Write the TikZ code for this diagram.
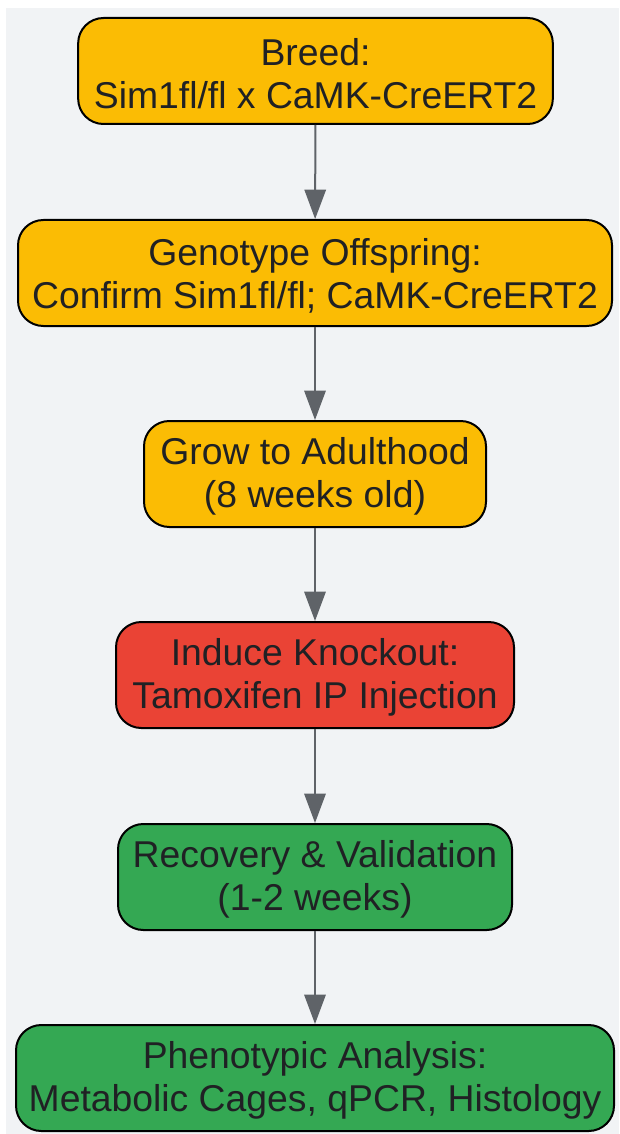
\documentclass[tikz,border=0pt]{standalone}
\usepackage{fontspec}
\setmainfont{Liberation Sans}
\usetikzlibrary{arrows.meta}
\definecolor{bggray}{HTML}{F1F3F5}
\definecolor{gyellow}{HTML}{FBBC04}
\definecolor{gred}{HTML}{EA4335}
\definecolor{ggreen}{HTML}{34A853}
\definecolor{arrowgray}{HTML}{5F6368}
\definecolor{txt}{HTML}{202124}
\begin{document}
\begin{tikzpicture}[x=0.75pt,y=-0.75pt,
  stepbox/.style={draw=black, line width=1.5pt, rounded corners=19pt,
    text=txt, align=center, font=\fontsize{28}{32.3}\selectfont,
    inner sep=0pt, minimum height=79.5pt},
  lbl/.style={text=txt, align=center, font=\fontsize{28}{32.3}\selectfont, inner sep=0pt},
  flow/.style={draw=arrowgray, line width=1.5pt, -{Triangle[width=16pt,length=22pt]}}]
\useasboundingbox (0,0) rectangle (619,1134);
\fill[white] (0,0) rectangle (619,1134);
\fill[bggray] (6,8) rectangle (619,1134);
\node[stepbox, fill=gyellow, minimum width=356pt] (n1) at (315.5,71) {};
\node[stepbox, fill=gyellow, minimum width=445.5pt] (n2) at (315,273) {};
\node[stepbox, fill=gyellow, minimum width=256.5pt] (n3) at (315,474) {};
\node[stepbox, fill=gred, minimum width=298.5pt] (n4) at (315,675) {};
\node[stepbox, fill=ggreen, minimum width=295.5pt] (n5) at (315,877) {};
\node[stepbox, fill=ggreen, minimum width=448.5pt] (n6) at (315,1078) {};
\node[lbl] (t1) at ([yshift=-2pt]n1.center) {Breed:\\Sim1fl/fl x CaMK-CreERT2};
\node[lbl] (t2) at ([yshift=-2pt]n2.center) {Genotype Offspring:\\Confirm Sim1fl/fl; CaMK-CreERT2};
\node[lbl] (t3) at ([yshift=-2pt]n3.center) {Grow to Adulthood\\(8 weeks old)};
\node[lbl] (t4) at ([yshift=-2pt]n4.center) {Induce Knockout:\\Tamoxifen IP Injection};
\node[lbl] (t5) at ([yshift=-2pt]n5.center) {Recovery \& Validation\\(1-2 weeks)};
\node[lbl] (t6) at ([yshift=-2pt]n6.center) {Phenotypic Analysis:\\Metabolic Cages, qPCR, Histology};
\draw[flow] (n1) -- (n2);
\draw[flow] (n2) -- (n3);
\draw[flow] (n3) -- (n4);
\draw[flow] (n4) -- (n5);
\draw[flow] (n5) -- (n6);
\end{tikzpicture}
\end{document}
